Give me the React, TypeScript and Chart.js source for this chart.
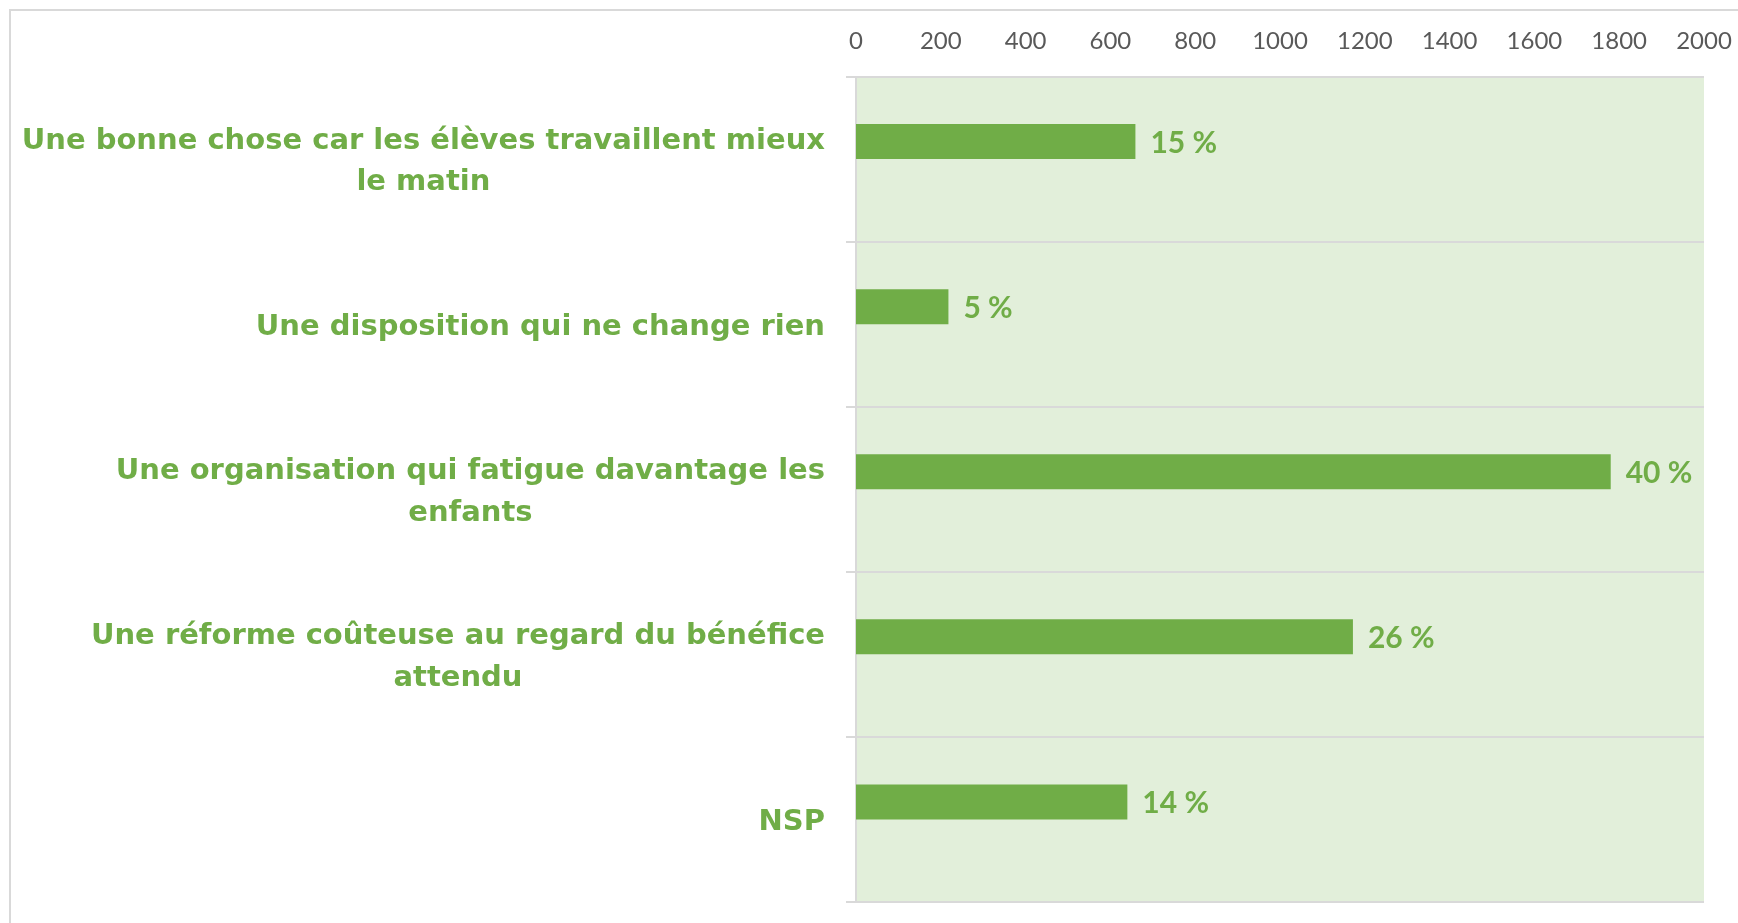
import React, { useEffect, useRef } from 'react';
import { Chart, registerables } from 'chart.js';

Chart.register(...registerables);

// ---- Data ----
const categoryLines: string[][] = [
  ['Une bonne chose car les élèves travaillent mieux', 'le matin'],
  ['Une disposition qui ne change rien'],
  ['Une organisation qui fatigue davantage les', 'enfants'],
  ['Une réforme coûteuse au regard du bénéfice', 'attendu'],
  ['NSP'],
];
const responses: number[] = [659, 218, 1780, 1172, 640];
const percentLabels: string[] = ['15 %', '5 %', '40 %', '26 %', '14 %'];
const emptySeries: (number | null)[] = [null, null, null, null, null];
const axisMin = 0;
const axisMax = 2000;
const axisStep = 200;

const GREEN = '#70AD47';
const PLOT_BG = '#E2EFDA';
const GRID = '#d9d9d9';

const plotBackground = {
  id: 'plotBackground',
  beforeDraw(chart: any) {
    const { ctx, chartArea } = chart;
    ctx.save();
    ctx.fillStyle = PLOT_BG;
    ctx.fillRect(chartArea.left, chartArea.top, chartArea.right - chartArea.left, chartArea.bottom - chartArea.top);
    ctx.restore();
  },
};

const categoryLabelsPlugin = {
  id: 'categoryLabels',
  afterDraw(chart: any) {
    const { ctx } = chart;
    const yScale = chart.scales.y;
    const rightEdge = chart.chartArea.left - 31;
    const lineHeight = 41.7;
    ctx.save();
    ctx.font = 'bold 29px "DejaVu Sans"';
    ctx.fillStyle = GREEN;
    ctx.textBaseline = 'middle';
    ctx.textAlign = 'center';
    categoryLines.forEach((lines, i) => {
      const yc = yScale.getPixelForValue(i) + 3;
      const widest = Math.max(...lines.map((l) => ctx.measureText(l).width));
      const cx = rightEdge - widest / 2;
      const startY = yc - ((lines.length - 1) * lineHeight) / 2;
      lines.forEach((l, j) => {
        ctx.fillText(l, cx, startY + j * lineHeight);
      });
    });
    ctx.restore();
  },
};

const valueLabelsPlugin = {
  id: 'valueLabels',
  afterDatasetsDraw(chart: any) {
    const { ctx } = chart;
    const meta = chart.getDatasetMeta(0);
    ctx.save();
    ctx.font = 'bold 30px Lato';
    ctx.fillStyle = GREEN;
    ctx.textBaseline = 'middle';
    ctx.textAlign = 'left';
    meta.data.forEach((el: any, i: number) => {
      ctx.fillText(percentLabels[i], el.x + 15, el.y + 1.5);
    });
    ctx.restore();
  },
};

export default function App() {
  const canvasRef = useRef<HTMLCanvasElement | null>(null);

  useEffect(() => {
    if (!canvasRef.current) return;
    const chart = new Chart(canvasRef.current, {
      type: 'bar',
      data: {
        labels: categoryLines.map((l) => l.join(' ')),
        datasets: [
          {
            label: 'Réponses',
            data: responses,
            backgroundColor: GREEN,
            borderWidth: 0,
            categoryPercentage: 0.424,
            barPercentage: 1,
          },
          {
            label: '',
            data: emptySeries,
            backgroundColor: 'transparent',
            borderWidth: 0,
            categoryPercentage: 0.424,
            barPercentage: 1,
          },
        ],
      },
      options: {
        indexAxis: 'y',
        responsive: true,
        maintainAspectRatio: false,
        animation: false,
        layout: { padding: { top: 27, right: 34, bottom: 21, left: 0 } },
        plugins: {
          legend: { display: false },
          tooltip: { enabled: false },
        },
        scales: {
          x: {
            position: 'top',
            min: axisMin,
            max: axisMax,
            ticks: {
              stepSize: axisStep,
              color: '#595959',
              font: { family: 'Lato', size: 24 },
              padding: 20.5,
              maxRotation: 0,
              autoSkip: false,
              callback: (v: any) => String(v),
            },
            grid: { display: false, drawTicks: false, tickLength: 0 },
            border: { display: false },
            afterFit: (scale: any) => {
              scale.height = 49.5;
              scale.paddingLeft = 0;
              scale.paddingRight = 0;
            },
          },
          y: {
            offset: true,
            grid: { offset: true, color: GRID, lineWidth: 2, tickLength: 10, drawTicks: true },
            border: { display: true, color: GRID, width: 2 },
            ticks: { display: false },
            afterFit: (scale: any) => {
              scale.width = 856;
            },
          },
        },
      },
      plugins: [plotBackground, categoryLabelsPlugin, valueLabelsPlugin],
    } as any);
    return () => chart.destroy();
  }, []);

  return (
    <div style={{ position: 'absolute', left: 0, top: 0, width: 1738, height: 923, overflow: 'hidden', background: '#ffffff' }}>
      <div
        style={{
          position: 'absolute',
          left: 9,
          top: 9,
          right: 0,
          bottom: 0,
          borderLeft: `2px solid ${GRID}`,
          borderTop: `2px solid ${GRID}`,
        }}
      />
      <div style={{ position: 'absolute', left: 0, top: 0, width: 1738, height: 923 }}>
        <canvas ref={canvasRef} />
      </div>
    </div>
  );
}
